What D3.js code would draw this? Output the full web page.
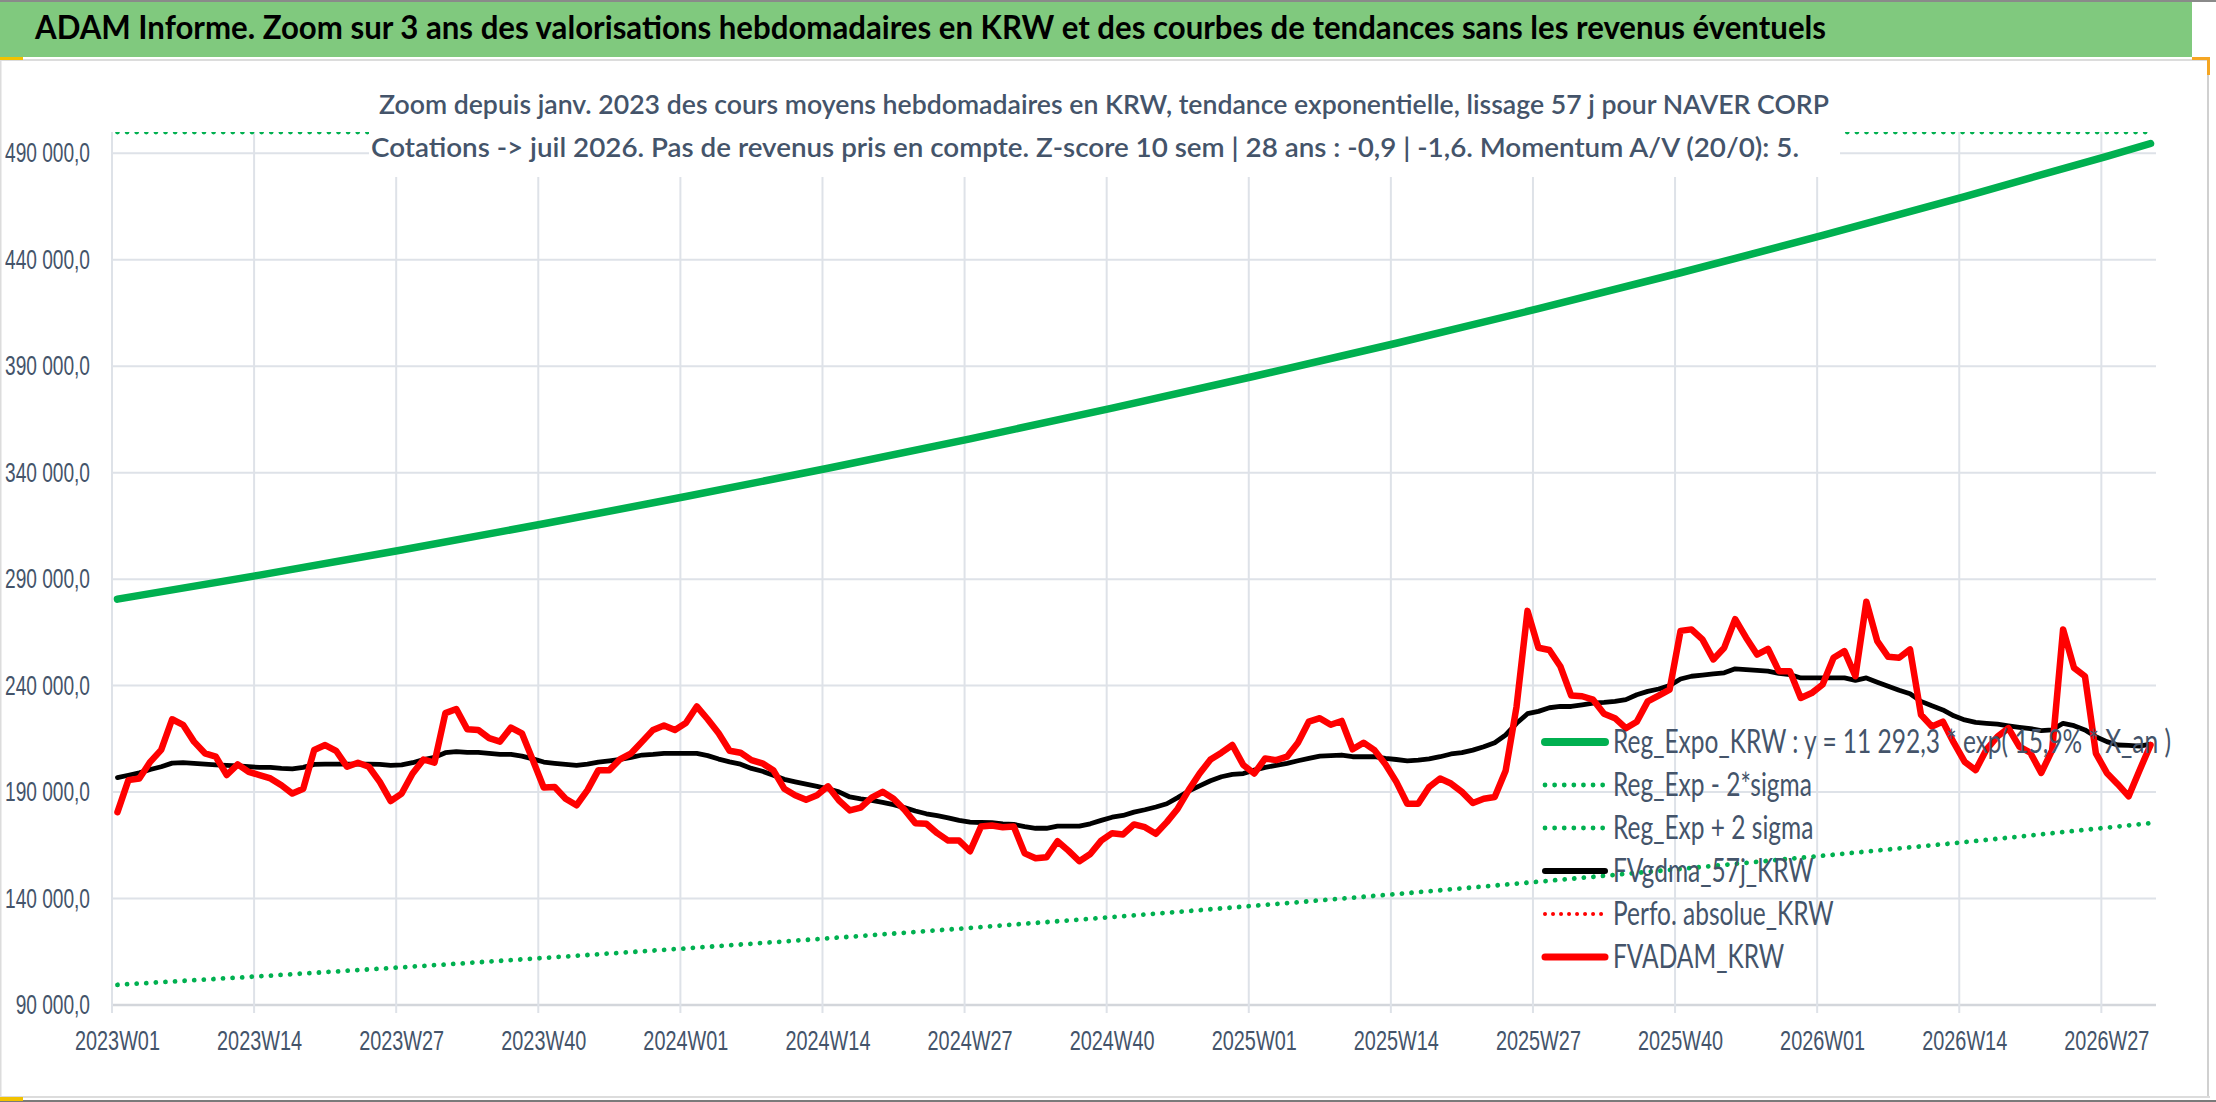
<!DOCTYPE html>
<html>
<head>
<meta charset="utf-8">
<script src="https://cdn.jsdelivr.net/npm/d3@7"></script>
<style>
  body { margin: 0; background: #ffffff; }
  svg { display: block; font-family: Lato, "Open Sans", sans-serif; }
</style>
</head>
<body>
<svg id="chart" width="2216" height="1102"></svg>
<script>
// ---- data ----
const titleText = "ADAM Informe. Zoom sur 3 ans des valorisations hebdomadaires en KRW et des courbes de tendances sans les revenus éventuels";
const subLine1 = "Zoom depuis janv. 2023 des cours moyens hebdomadaires en KRW, tendance exponentielle, lissage 57 j pour NAVER CORP";
const subLine2 = "Cotations -> juil 2026. Pas de revenus pris en compte. Z-score 10 sem | 28 ans : -0,9 | -1,6. Momentum A/V (20/0): 5.";

const yearWeeks = [[2023, 52], [2024, 52], [2025, 52], [2026, 31]];
const xTickLabels = ["2023W01", "2023W14", "2023W27", "2023W40", "2024W01", "2024W14", "2024W27", "2024W40",
                     "2025W01", "2025W14", "2025W27", "2025W40", "2026W01", "2026W14", "2026W27"];
const yTicks = [90000, 140000, 190000, 240000, 290000, 340000, 390000, 440000, 490000];

// weekly FVADAM_KRW (red)
const fvadam = [
  180600, 195600, 196400, 204200, 209800, 224200, 221600, 213700, 208200, 206600,
  198000, 203000, 199500, 198000, 196400, 193200, 189300, 191600, 209800, 212100,
  209400, 201900, 203800, 201900, 194800, 185800, 189300, 198700, 205300, 203800,
  227100, 229000, 219500, 219200, 215300, 213700, 220300, 217600, 205000, 192100,
  192400, 186900, 183800, 190900, 200300, 200300, 205500, 208200, 213700, 219200,
  221300, 219200, 222400, 230200, 224200, 217600, 209400, 208500, 205000, 203500,
  200300, 191600, 188500, 186400, 188500, 192700, 186100, 181400, 182700, 187400,
  190100, 186900, 181700, 175400, 175100, 170700, 167200, 167200, 162200, 173800,
  174300, 173500, 173800, 161200, 158900, 159400, 166900, 162500, 157500, 160900,
  167200, 170700, 170100, 174800, 173500, 170400, 175900, 182200, 190900, 198700,
  205300, 208500, 212100, 202700, 198700, 205800, 205000, 206600, 213200, 223100,
  224700, 221600, 223400, 210100, 213200, 209700, 203100, 194800, 184500, 184500,
  192400, 196400, 194000, 190100, 184900, 186900, 187700, 200000, 230200, 275100,
  257800, 256700, 249100, 235300, 235000, 233400, 226800, 224700, 220000, 223000,
  232600, 235300, 238100, 265700, 266400, 261700, 252300, 257800, 271200, 262500,
  254600, 257300, 246800, 246800, 234200, 236500, 240500, 253100, 256200, 244400,
  279400, 260900, 253500, 253100, 257000, 226300, 220800, 223100, 213200, 204200,
  200300, 210100, 216100, 220000, 211300, 208500, 199000, 209700, 266400, 248300,
  244400, 208200, 199000, 193700, 188000, 200300, 212100
];

// weekly FVgdma_57j_KRW (black)
const fvgdma = [
  196800, 197900, 199000, 200600, 201900, 203600, 203800, 203500, 203100, 202800,
  202500, 202300, 201900, 201600, 201600, 201100, 200900, 201600, 203000, 203100,
  203100, 203100, 203100, 203100, 203000, 202500, 202800, 203800, 205300, 206300,
  208500, 209000, 208600, 208600, 208200, 207700, 207700, 206900, 205600, 204100,
  203500, 203000, 202500, 203100, 204100, 204700, 205400, 206300, 207400, 207700,
  208200, 208200, 208200, 208200, 207100, 205500, 204200, 203100, 201100, 199800,
  197900, 196000, 194800, 193700, 192700, 191500, 190100, 187700, 186800, 186100,
  185200, 184100, 182700, 181100, 179800, 178900, 177900, 176700, 175900, 175700,
  175600, 175100, 174800, 173800, 173000, 173000, 174000, 174000, 174000, 175100,
  176700, 178200, 179000, 180600, 181700, 183000, 184500, 187400, 190500, 192900,
  195300, 197200, 198300, 198700, 200300, 201600, 202500, 203500, 204700, 205800,
  206900, 207100, 207400, 206600, 206600, 206600, 205800, 205300, 204700, 205000,
  205600, 206600, 207900, 208500, 209700, 211300, 213200, 216800, 222300, 226800,
  227900, 229600, 230200, 230200, 231000, 231800, 232100, 232600, 233400, 235700,
  237300, 238400, 240000, 243100, 244400, 244900, 245500, 246000, 247900, 247500,
  247200, 246800, 245700, 245200, 243600, 243600, 243600, 243600, 243600, 242500,
  243600, 241600, 239700, 237800, 236200, 232600, 230500, 228600, 225800, 223900,
  222700, 222300, 221900, 221100, 220400, 219800, 218900, 219200, 222300, 221200,
  219200, 216000, 213700, 212100, 211900, 211600, 212500
];

// trend curves, read at every labelled week plus the last one
const trendWeeks = ["2023W01", "2023W14", "2023W27", "2023W40", "2024W01", "2024W14", "2024W27", "2024W40",
                    "2025W01", "2025W14", "2025W27", "2025W40", "2026W01", "2026W14", "2026W27", "2026W31"];
const regExpo = [280600, 291900, 303700, 316000, 328800, 342100, 355900, 370300,
                 385300, 400800, 417000, 433900, 451400, 469700, 488600, 494600];
const regMinus = [99500, 103500, 107700, 112100, 116600, 121300, 126200, 131300,
                  136600, 142100, 147900, 153900, 160100, 166500, 173300, 175400];
const regPlus = [791000, 823000, 857000, 891000, 928000, 965000, 1004000, 1045000,
                 1087000, 1131000, 1177000, 1225000, 1274000, 1326000, 1379000, 1397000];
const perfoAbs = [];

const legendNames = ["Reg_Expo_KRW : y = 11 292,3 * exp( 15,9% * X_an )", "Reg_Exp - 2*sigma", "Reg_Exp + 2 sigma",
                     "FVgdma_57j_KRW", "Perfo. absolue_KRW", "FVADAM_KRW"];

// ---- layout ----
const svg = d3.select("#chart");
const plot = {left: 112, right: 2156, top: 132, bottom: 1005};
const textCol = "#44546A";
const gridCol = "#DEE2E8";
const greenCol = "#00B050";

const weeks = [];
yearWeeks.forEach(([yr, n]) => {
    for (let w = 1; w <= n; w++) weeks.push(yr + "W" + String(w).padStart(2, "0"));
});

const x = d3.scaleBand().domain(weeks).range([plot.left, plot.right]).paddingInner(0).paddingOuter(0);
const bw = x.bandwidth();
const y = d3.scaleLinear().domain([90000, 500000]).range([plot.bottom, plot.top]);
const yClamp = y.copy().clamp(true);

const frLocale = d3.formatLocale({decimal: ",", thousands: " ", grouping: [3], currency: ["", " €"]});
const fmt = frLocale.format(",.1f");

function squeeze(sel, k) {
    sel.each(function() {
        let n = this.getComputedTextLength();
        d3.select(this).attr("textLength", n * k).attr("lengthAdjust", "spacingAndGlyphs");
    });
}
function fitWidth(sel, w) {
    sel.attr("textLength", w).attr("lengthAdjust", "spacingAndGlyphs");
}

// frame and header band
svg.append("rect").attr("x", 0).attr("y", 0).attr("width", 2216).attr("height", 1102).attr("fill", "#ffffff");
svg.append("rect").attr("x", 0).attr("y", 2).attr("width", 2192).attr("height", 55).attr("fill", "#80C97E");
svg.append("rect").attr("x", 0).attr("y", 0).attr("width", 2216).attr("height", 2).attr("fill", "#8a8a8a");
svg.append("rect").attr("x", 0).attr("y", 59).attr("width", 2210).attr("height", 2).attr("fill", "#dcdcdc");
svg.append("rect").attr("x", 0).attr("y", 61).attr("width", 1.5).attr("height", 1037).attr("fill", "#dcdcdc");
svg.append("rect").attr("x", 2207).attr("y", 61).attr("width", 2).attr("height", 1037).attr("fill", "#d0d0d0");
svg.append("rect").attr("x", 0).attr("y", 1096).attr("width", 2210).attr("height", 2).attr("fill", "#dcdcdc");
svg.append("rect").attr("x", 0).attr("y", 1100).attr("width", 2216).attr("height", 2).attr("fill", "#7a7a7a");
// small selection marks
svg.append("rect").attr("x", 0).attr("y", 57).attr("width", 23).attr("height", 3).attr("fill", "#F2C200");
svg.append("rect").attr("x", 0).attr("y", 1097).attr("width", 23).attr("height", 4).attr("fill", "#F2C200");
svg.append("rect").attr("x", 2192).attr("y", 57).attr("width", 18).attr("height", 3).attr("fill", "#F5A623");
svg.append("rect").attr("x", 2207).attr("y", 57).attr("width", 3).attr("height", 18).attr("fill", "#F5A623");

svg.append("text")
    .attr("x", 35).attr("y", 39)
    .attr("font-size", 32).attr("font-weight", "bold").attr("fill", "#000")
    .text(titleText)
    .call(fitWidth, 1791);

// gridlines
const grid = svg.append("g");
grid.selectAll("line.h").data(yTicks).enter().append("line")
    .attr("x1", plot.left).attr("x2", plot.right)
    .attr("y1", d => y(d)).attr("y2", d => y(d))
    .attr("stroke", d => d === 90000 ? "#D3D6DB" : gridCol)
    .attr("stroke-width", d => d === 90000 ? 2.5 : 2);
grid.selectAll("line.v").data(xTickLabels).enter().append("line")
    .attr("x1", d => x(d)).attr("x2", d => x(d))
    .attr("y1", plot.top).attr("y2", plot.bottom + 8)
    .attr("stroke", gridCol).attr("stroke-width", 2);

// axes
const yAxis = svg.append("g")
    .attr("transform", "translate(" + plot.left + ",0)")
    .call(d3.axisLeft(y).tickValues(yTicks).tickFormat(fmt).tickSize(0).tickPadding(22));
yAxis.select(".domain").remove();
yAxis.selectAll("text").attr("font-size", 27).attr("fill", textCol).attr("font-family", null);
{
    let ref = yAxis.selectAll("text").filter(d => d === 340000).node().getComputedTextLength();
    yAxis.selectAll("text").call(squeeze, 85 / ref);
}

const xAxis = svg.append("g")
    .attr("transform", "translate(0," + plot.bottom + ")")
    .call(d3.axisBottom(x).tickValues(xTickLabels).tickSize(0).tickPadding(25));
xAxis.select(".domain").remove();
xAxis.selectAll("text").attr("font-size", 28).attr("fill", textCol).attr("font-family", null);
{
    let ref = xAxis.select("text").node().getComputedTextLength();
    xAxis.selectAll("text").call(squeeze, 85 / ref);
}

// series
svg.append("clipPath").attr("id", "plotclip").append("rect")
    .attr("x", plot.left).attr("y", plot.top)
    .attr("width", plot.right - plot.left).attr("height", plot.bottom - plot.top);

const lineY = d3.line().x(d => x(d[0]) + bw / 2).y(d => y(d[1]));
const lineClamp = d3.line().x(d => x(d[0]) + bw / 2).y(d => yClamp(d[1]));
const series = svg.append("g").attr("fill", "none")
    .attr("stroke-linejoin", "round").attr("stroke-linecap", "round");

series.append("path")
    .attr("d", lineY(trendWeeks.map((w, i) => [w, regExpo[i]])))
    .attr("stroke", greenCol).attr("stroke-width", 7.5);
series.append("path")
    .attr("d", lineY(trendWeeks.map((w, i) => [w, regMinus[i]])))
    .attr("stroke", greenCol).attr("stroke-width", 4.8).attr("stroke-dasharray", "0.01 9.6");
series.append("path")
    .attr("clip-path", "url(#plotclip)")
    .attr("d", lineClamp(trendWeeks.map((w, i) => [w, regPlus[i]])))
    .attr("stroke", greenCol).attr("stroke-width", 4.8).attr("stroke-dasharray", "0.01 9.6");
series.append("path")
    .attr("d", lineY(fvgdma.map((v, i) => [weeks[i], v])))
    .attr("stroke", "#000000").attr("stroke-width", 4.8);
if (perfoAbs.length) {
    series.append("path")
        .attr("d", lineY(perfoAbs.map((v, i) => [weeks[i], v])))
        .attr("stroke", "#FF0000").attr("stroke-width", 4.7).attr("stroke-dasharray", "0.01 9.6");
}
series.append("path")
    .attr("d", lineY(fvadam.map((v, i) => [weeks[i], v])))
    .attr("stroke", "#FF0000").attr("stroke-width", 6.5);

// chart title box
svg.append("rect").attr("x", 369).attr("y", 66).attr("width", 1471).attr("height", 111).attr("fill", "#ffffff");
svg.append("text").attr("x", 379).attr("y", 114)
    .attr("font-size", 27).attr("font-weight", 600).attr("fill", textCol).text(subLine1).call(fitWidth, 1450);
svg.append("text").attr("x", 371).attr("y", 157)
    .attr("font-size", 27).attr("font-weight", 600).attr("fill", textCol).text(subLine2).call(fitWidth, 1428);

// legend
const legendStyle = [
    {col: greenCol, w: 8, dash: null},
    {col: greenCol, w: 4.8, dash: "0.01 9.6"},
    {col: greenCol, w: 4.8, dash: "0.01 9.6"},
    {col: "#000000", w: 6, dash: null},
    {col: "#FF0000", w: 4, dash: "0.01 8"},
    {col: "#FF0000", w: 7, dash: null}
];
const legend = svg.append("g");
const rows = legend.selectAll("g").data(legendNames).enter().append("g")
    .attr("transform", (d, i) => "translate(1543," + (742 + i * 43) + ")");
rows.append("line")
    .attr("x1", 2).attr("x2", 62).attr("y1", 0).attr("y2", 0)
    .attr("stroke", (d, i) => legendStyle[i].col)
    .attr("stroke-width", (d, i) => legendStyle[i].w)
    .attr("stroke-dasharray", (d, i) => legendStyle[i].dash)
    .attr("stroke-linecap", "round");
rows.append("text")
    .attr("x", 70).attr("y", 11)
    .attr("font-size", 32).attr("fill", textCol)
    .text(d => d);
{
    let ref = rows.select("text").node().getComputedTextLength();
    rows.selectAll("text").call(squeeze, 558 / ref);
}
</script>
</body>
</html>
